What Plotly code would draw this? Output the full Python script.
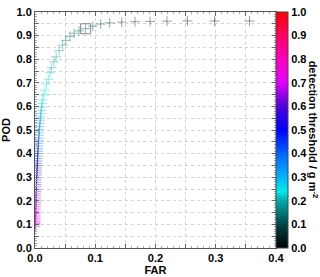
import plotly.graph_objects as go

# detection thresholds (g m^-2), false alarm rate and probability of detection
threshold = [0.01, 0.02, 0.03, 0.04, 0.05, 0.06, 0.07, 0.08, 0.09, 0.10,
             0.11, 0.12, 0.13, 0.14, 0.15, 0.16, 0.17, 0.18, 0.19, 0.20,
             0.21, 0.22, 0.23, 0.24, 0.25, 0.26, 0.27, 0.28, 0.29, 0.30,
             0.31, 0.32, 0.33, 0.34, 0.35, 0.36, 0.37, 0.38, 0.39, 0.40,
             0.41, 0.42, 0.43, 0.44, 0.45, 0.46, 0.47, 0.48, 0.49, 0.50,
             0.51, 0.52, 0.53, 0.54, 0.55, 0.56, 0.57, 0.58, 0.59, 0.60,
             0.61, 0.62, 0.63, 0.64, 0.65, 0.66, 0.67, 0.68, 0.69, 0.70,
             0.71, 0.72, 0.73, 0.74, 0.75, 0.76, 0.77, 0.78, 0.79, 0.80]
far = [0.356, 0.298, 0.253, 0.219, 0.191, 0.166, 0.144, 0.124, 0.109, 0.096,
       0.084, 0.073, 0.065, 0.058, 0.051, 0.046, 0.040, 0.035, 0.0315, 0.0277,
       0.025, 0.022, 0.019, 0.0166, 0.0150, 0.0127, 0.0118, 0.0110, 0.0103, 0.0097,
       0.0091, 0.0086, 0.0081, 0.0077, 0.0073, 0.0069, 0.0065, 0.0062, 0.0059, 0.0056,
       0.0053, 0.0050, 0.0048, 0.0046, 0.0044, 0.0042, 0.0040, 0.0038, 0.0036, 0.0034,
       0.0032, 0.0031, 0.0029, 0.0028, 0.0026, 0.0025, 0.0024, 0.0023, 0.0022, 0.0021,
       0.0020, 0.0019, 0.0018, 0.0017, 0.0016, 0.0015, 0.0015, 0.0014, 0.0013, 0.0013,
       0.0012, 0.0012, 0.0011, 0.0011, 0.0010, 0.0010, 0.0009, 0.0009, 0.0008, 0.0008]
pod = [0.962, 0.962, 0.962, 0.961, 0.960, 0.959, 0.957, 0.954, 0.949, 0.940,
       0.929, 0.920, 0.910, 0.897, 0.880, 0.860, 0.836, 0.810, 0.789, 0.764,
       0.743, 0.715, 0.695, 0.669, 0.648, 0.627, 0.612, 0.597, 0.583, 0.569,
       0.555, 0.541, 0.528, 0.515, 0.502, 0.490, 0.478, 0.466, 0.454, 0.443,
       0.432, 0.421, 0.410, 0.400, 0.389, 0.379, 0.369, 0.359, 0.349, 0.339,
       0.329, 0.319, 0.309, 0.299, 0.289, 0.279, 0.269, 0.259, 0.249, 0.240,
       0.230, 0.221, 0.212, 0.203, 0.194, 0.185, 0.177, 0.169, 0.161, 0.153,
       0.146, 0.139, 0.132, 0.126, 0.120, 0.114, 0.109, 0.104, 0.099, 0.091]

# highlighted (boxed) point
best_far = [0.084]
best_pod = [0.929]

colorscale = [
    [0.00, "rgb(0,0,0)"],
    [0.10, "rgb(0,70,70)"],
    [0.20, "rgb(0,170,170)"],
    [0.24, "rgb(0,235,235)"],
    [0.30, "rgb(0,180,255)"],
    [0.40, "rgb(0,100,255)"],
    [0.50, "rgb(0,0,255)"],
    [0.60, "rgb(80,0,220)"],
    [0.70, "rgb(225,0,255)"],
    [0.80, "rgb(255,0,190)"],
    [0.90, "rgb(255,0,100)"],
    [1.00, "rgb(255,0,0)"],
]

bold = dict(family="Liberation Sans, Arial", size=11, color="black", weight="bold")

fig = go.Figure()
fig.add_trace(go.Scatter(
    x=far, y=pod, mode="markers",
    marker=dict(symbol="cross-thin-open", size=7, color=threshold,
                colorscale=colorscale, cmin=0, cmax=1, opacity=0.42,
                line=dict(width=1),
                colorbar=dict(thickness=12, len=1, lenmode="fraction", y=0.5,
                              yanchor="middle", x=1.0, xanchor="left", xpad=0, ypad=0,
                              outlinewidth=1, outlinecolor="#444",
                              tickvals=[0, 0.1, 0.2, 0.3, 0.4, 0.5, 0.6, 0.7, 0.8, 0.9, 1.0],
                              tickformat=".1f", ticks="", ticklen=0,
                              tickfont=bold)),
    showlegend=False, hoverinfo="skip"))
fig.add_trace(go.Scatter(
    x=best_far, y=best_pod, mode="markers",
    marker=dict(symbol="square-open", size=10, color="#888", line=dict(width=1)),
    showlegend=False, hoverinfo="skip"))

grid_vals = [0, 0.05, 0.1, 0.15, 0.2, 0.25, 0.3, 0.35, 0.4]
fig.update_xaxes(range=[0, 0.4], tickvals=grid_vals,
                 ticktext=["0.0", "", "0.1", "", "0.2", "", "0.3", "", "0.4"],
                 ticks="inside", ticklen=4, tickcolor="#666",
                 showgrid=True, gridcolor="#d2d2d2", griddash="dot", gridwidth=1,
                 showline=True, linecolor="#555", linewidth=1, mirror="ticks",
                 zeroline=False, tickfont=bold, automargin=False,
                 minor=dict(dtick=0.01, ticks="inside", ticklen=2, tickcolor="#aaa", showgrid=False),
                 title=dict(text="FAR", font=bold, standoff=2))
fig.update_yaxes(range=[0, 1.0],
                 tickvals=[0, 0.05, 0.1, 0.15, 0.2, 0.25, 0.3, 0.35, 0.4, 0.45, 0.5,
                           0.55, 0.6, 0.65, 0.7, 0.75, 0.8, 0.85, 0.9, 0.95, 1.0],
                 ticktext=["0.0", "", "0.1", "", "0.2", "", "0.3", "", "0.4", "", "0.5",
                           "", "0.6", "", "0.7", "", "0.8", "", "0.9", "", "1.0"],
                 ticks="inside", ticklen=4, tickcolor="#666",
                 showgrid=True, gridcolor="#d2d2d2", griddash="dot", gridwidth=1,
                 showline=True, linecolor="#555", linewidth=1, mirror="ticks",
                 zeroline=False, tickfont=bold, automargin=False,
                 minor=dict(dtick=0.01, ticks="inside", ticklen=2, tickcolor="#aaa", showgrid=False),
                 title=dict(text="POD", font=bold, standoff=4))

fig.add_annotation(text="detection threshold / g m<sup>-2</sup>", textangle=90,
                   xref="paper", yref="paper", x=1.155, y=0.5, xanchor="center",
                   yanchor="middle", showarrow=False, font=bold)

fig.update_layout(width=320, height=277,
                  margin=dict(l=35, r=44, t=12, b=29, autoexpand=False),
                  plot_bgcolor="white", paper_bgcolor="white")

fig.write_html("out.html", config={"displayModeBar": False},
               post_script="document.body.style.margin='0';document.body.style.overflow='hidden';")
